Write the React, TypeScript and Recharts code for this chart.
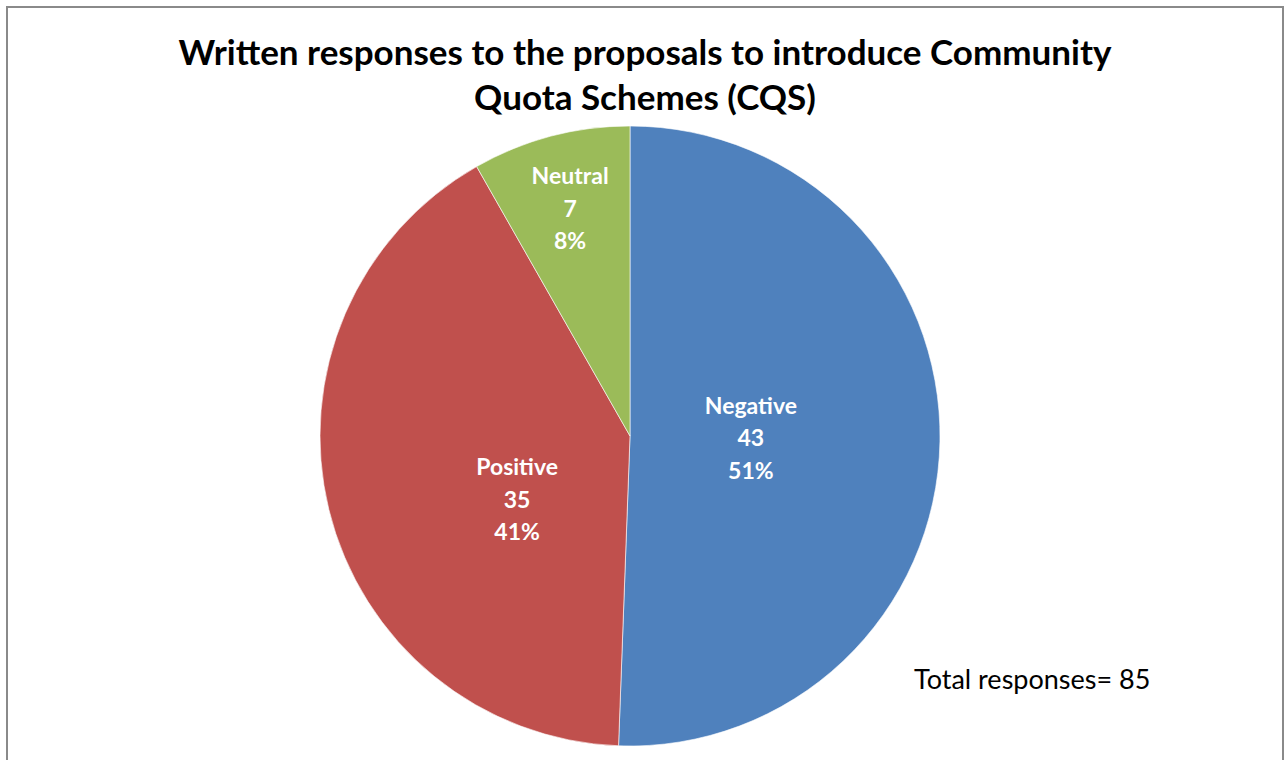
import React from 'react';
import { PieChart, Pie, Cell } from 'recharts';

const categories = ['Negative', 'Positive', 'Neutral'];
const responses = [43, 35, 7];
const percentLabels = ['51%', '41%', '8%'];
const colors = ['#4F81BD', '#C0504D', '#9BBB59'];
const titleLines = ['Written responses to the proposals to introduce Community', 'Quota Schemes (CQS)'];
const totalNote = 'Total responses= 85';

const data = categories.map((name, i) => ({ name, value: responses[i], pct: percentLabels[i] }));

// radial placement factor for each label (fraction of outer radius)
const labelRadius = [0.39, 0.375, 0.755];
const labelShift = [0, 36, -1];

const FONT = 'Lato, "Open Sans", sans-serif';

const renderLabel = (props: any) => {
  const { cx, cy, midAngle, outerRadius, index, payload } = props;
  const RAD = Math.PI / 180;
  const r = outerRadius * labelRadius[index];
  const x = cx + r * Math.cos(-midAngle * RAD);
  const y = cy + r * Math.sin(-midAngle * RAD) + labelShift[index];
  const lh = 32.5;
  return (
    <text x={x} y={y} fill="#ffffff" textAnchor="middle" fontFamily={FONT} fontWeight={700} fontSize={23}>
      <tspan x={x} y={y - lh + 8}>{payload.name}</tspan>
      <tspan x={x} y={y + 8}>{payload.value}</tspan>
      <tspan x={x} y={y + lh + 8}>{payload.pct}</tspan>
    </text>
  );
};

export default function App() {
  return (
    <div style={{ position: 'fixed', left: 0, top: 0, width: 1287, height: 760, overflow: 'hidden', background: '#fff' }}>
      <div style={{ position: 'absolute', left: 6, top: 6, width: 1274, height: 820, border: '2px solid #8a8a8a', background: '#fff' }}>
        <div style={{ position: 'absolute', left: 0, top: 21, width: 1274, textAlign: 'center', fontFamily: FONT, fontWeight: 700, fontSize: 35, lineHeight: '45px', color: '#000' }}>
          {titleLines.map((t) => (
            <div key={t} style={{ paddingLeft: 0 }}>{t}</div>
          ))}
        </div>
        <div style={{ position: 'absolute', left: 0, top: 0 }}>
          <PieChart width={1274} height={760}>
            <Pie
              data={data}
              dataKey="value"
              nameKey="name"
              cx={617}
              cy={423}
              outerRadius={310}
              startAngle={90}
              endAngle={-270}
              stroke="#ffffff"
              strokeWidth={0.6}
              label={renderLabel}
              labelLine={false}
              isAnimationActive={false}
            >
              {data.map((d, i) => (
                <Cell key={d.name} fill={colors[i]} />
              ))}
            </Pie>
          </PieChart>
        </div>
        <div style={{ position: 'absolute', left: 906, top: 654, fontFamily: FONT, fontSize: 27, color: '#000', whiteSpace: 'nowrap' }}>
          {totalNote}
        </div>
      </div>
    </div>
  );
}
